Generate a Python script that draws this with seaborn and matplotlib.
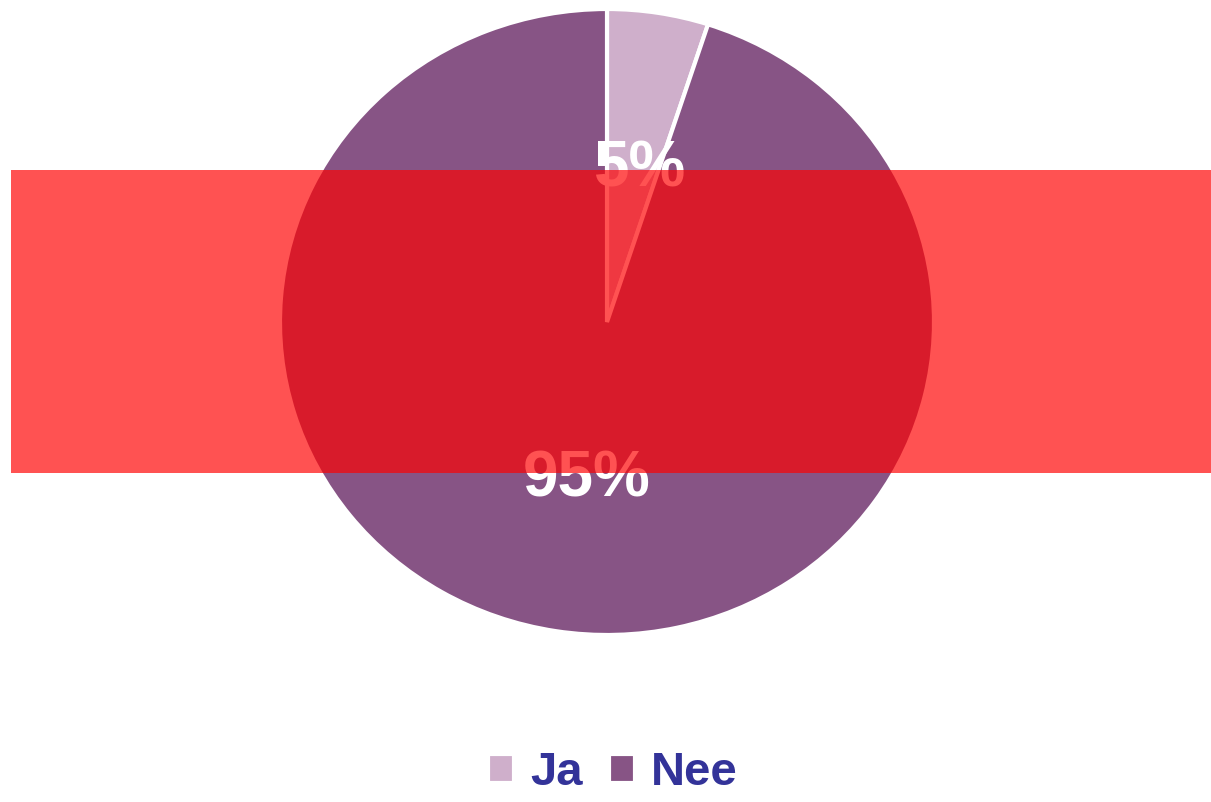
import seaborn as sns
import matplotlib.pyplot as plt
from matplotlib.patches import Rectangle

labels = ["Ja", "Nee"]
values = [5, 95]
colors = ["#CFAFCB", "#875485"]

sns.set_theme(style="white")
plt.rcParams["font.family"] = ["Liberation Sans", "DejaVu Sans"]

fig = plt.figure(figsize=(12.11, 8.02), dpi=100)
cx, cy, rx, ry = 607, 322, 327, 313
ax = fig.add_axes([(cx - rx) / 1211, (802 - cy - ry) / 802, 2 * rx / 1211, 2 * ry / 802])

wedges, texts, autotexts = ax.pie(
    values, colors=colors, startangle=90, counterclock=False,
    autopct="%.0f%%", pctdistance=0.51,
    wedgeprops={"edgecolor": "white", "linewidth": 3},
    textprops={"color": "white", "fontsize": 46, "fontweight": "bold"},
)
# nudge the percentage labels a little
for t, dy in zip(autotexts, [-0.017, 0.0]):
    x, y = t.get_position()
    t.set_position((x + 0.018, y + dy))
ax.set_aspect("auto")
ax.set_xlim(-1, 1)
ax.set_ylim(-1, 1)
ax.axis("off")

leg = fig.legend(wedges, labels, loc="center", bbox_to_anchor=(0.506, 0.036),
                 ncol=2, frameon=False, handlelength=0.55, handleheight=0.55,
                 handletextpad=0.35, columnspacing=0.55, borderpad=0.1,
                 prop={"size": 34, "weight": "bold"})
for t in leg.get_texts():
    t.set_color("#333399")

# red overlay band across the middle
fig.patches.append(Rectangle((11 / 1211, 1 - 473 / 802), 1200 / 1211, 303 / 802,
                             transform=fig.transFigure, facecolor="#ff0000",
                             alpha=0.68, edgecolor="none", zorder=10))

fig.savefig("out.png", dpi=100)
